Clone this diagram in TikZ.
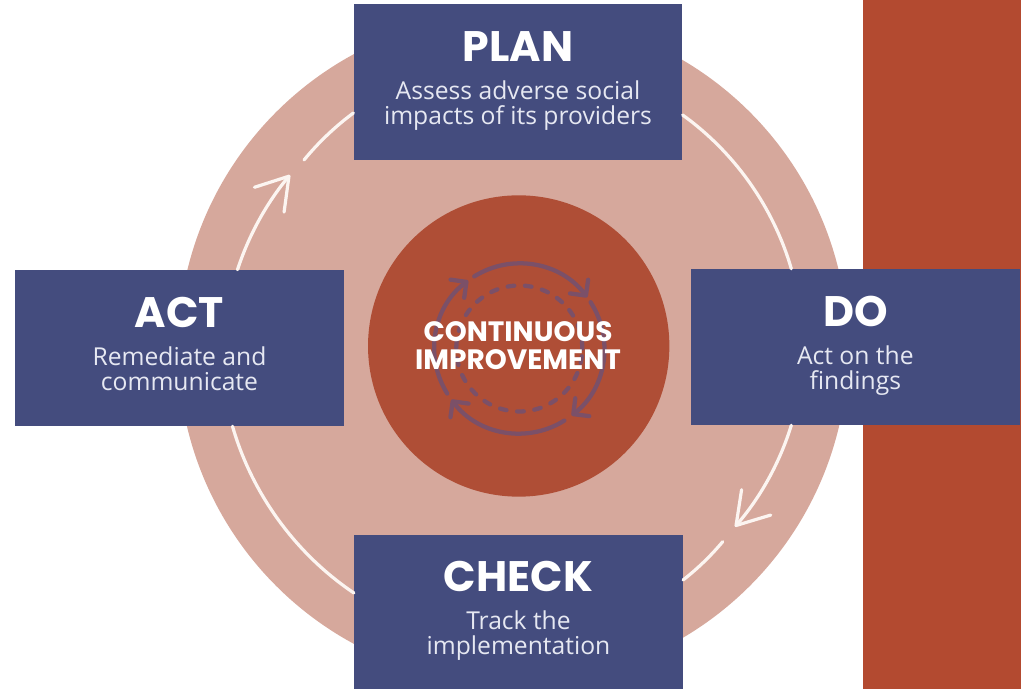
\documentclass[tikz,border=0pt]{standalone}
\usepackage{fontspec}
\setmainfont{Open Sans}
\newfontfamily\titlefont{Poppins}
\usetikzlibrary{positioning,calc,arrows.meta}
\definecolor{barred}{HTML}{B34A30}
\definecolor{corered}{HTML}{AF4E36}
\definecolor{ringpink}{HTML}{D6A89C}
\definecolor{boxblue}{HTML}{444C7E}
\definecolor{bodytext}{HTML}{E6E8F2}
\definecolor{iconpurple}{HTML}{7B5068}
\definecolor{ringwhite}{HTML}{FCF5F1}
\newcommand{\steptitle}[1]{{\titlefont\fontsize{32}{32}\selectfont\bfseries\color{white}#1}}

\begin{document}
\begin{tikzpicture}[x=0.75pt,y=0.75pt,
	stepbox/.style={rectangle,fill=boxblue,text=bodytext,minimum width=246.5pt,minimum height=117pt,inner sep=0pt,align=center,text depth=6.6pt,font=\fontsize{18.5}{18.75}\selectfont},
	ringdisc/.style={circle,fill=ringpink,minimum size=502.5pt,inner sep=0pt},
	coredisc/.style={circle,fill=corered,minimum size=226pt,inner sep=0pt},
	corelabel/.style={text=white,align=center,inner sep=0pt,font=\titlefont\fontsize{21}{21}\selectfont\bfseries},
	ringline/.style={ringwhite,line width=2.4pt,line cap=round},
	ringarrow/.style={ringline,-{Straight Barb[length=23pt,width=29pt,round]}},
	iconline/.style={iconpurple,line width=3.2pt,line cap=round}]
		\useasboundingbox (0,0) rectangle (1021,689);
		\fill[barred] (863,0) rectangle (1021,689);
		\node[ringdisc] (ring) at (513,340) {};
		\node[coredisc] (core) at (518.7,343) {};
		% icon behind the label
		\coordinate (icon) at (519.3,340.5);
		\foreach \a in {122,33,-58,-148}
			\draw[iconline,-{Straight Barb[length=8.5pt,width=17pt,round]}] (icon) ++(\a:85) arc[start angle=\a,delta angle=-85,radius=85];
		\draw[iconline,dash pattern=on 5pt off 8pt] (icon) circle[radius=63];
		\node[corelabel] (corename) at (518,343.5) {CONTINUOUS\\IMPROVEMENT};
		\node[stepbox] (plan) at (518,607) {\steptitle{PLAN}\\[9.75pt]Assess adverse social\\impacts of its providers};
		\node[stepbox] (do) at (855.3,342) {\steptitle{DO}\\[9.75pt]Act on the\\findings};
		\node[stepbox,minimum height=115.5pt] (check) at (518.5,77) {\steptitle{CHECK}\\[9.75pt]Track the\\implementation};
		\node[stepbox] (act) at (179.5,341) {\steptitle{ACT}\\[9.75pt]Remediate and\\communicate};
		\coordinate (dotip) at (735,162.3);
		\coordinate (dogap) at (722.7,147.3);
		\coordinate (acttip) at (290,514);
		\coordinate (actgap) at (304,529);
		\draw[ringline] ($(plan.east)+(0,-33)$) to[bend left=19,looseness=.87] ($(do.north)+(-64,0)$);
		\draw[ringarrow] ($(do.south)+(-64,0)$) to[bend left=12,looseness=.85] (dotip);
		\draw[ringline] (dogap) to[bend left=6,looseness=.85] ($(check.east)+(0,32)$);
		\draw[ringline] ($(check.west)+(0,19)$) to[bend left=20,looseness=.87] ($(act.south)+(53,0)$);
		\draw[ringarrow] ($(act.north)+(58,0)$) to[bend left=11,looseness=.85] (acttip);
		\draw[ringline] (actgap) to[bend left=7,looseness=.85] ($(plan.west)+(0,-31)$);
	\end{tikzpicture}
\end{document}
